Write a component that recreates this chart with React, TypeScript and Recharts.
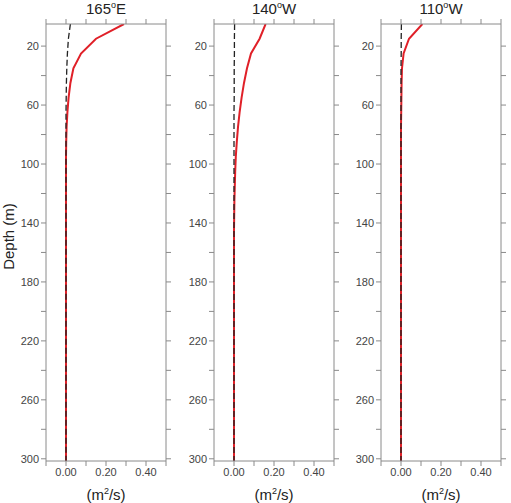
import { Line, LineChart, XAxis, YAxis } from 'recharts'

const DEPTHS = [5, 15, 25, 35, 45, 55, 65, 75, 85, 95, 105, 115, 125, 135, 145, 160, 180, 200, 220, 240, 260, 280, 301.5]

const RED_165E = [0.29, 0.15, 0.075, 0.037, 0.022, 0.013, 0.007, 0.003, 0.001, 0, 0, 0, 0, 0, 0, 0, 0, 0, 0, 0, 0, 0, 0]
const BLK_165E = [0.022, 0.012, 0.007, 0.004, 0.002, 0.001, 0, 0, 0, 0, 0, 0, 0, 0, 0, 0, 0, 0, 0, 0, 0, 0, 0]

const RED_140W = [0.158, 0.128, 0.085, 0.065, 0.05, 0.038, 0.028, 0.02, 0.014, 0.009, 0.006, 0.004, 0.002, 0.001, 0, 0, 0, 0, 0, 0, 0, 0, 0]
const BLK_140W = [0.003, 0.002, 0.002, 0.001, 0.001, 0.001, 0, 0, 0, 0, 0, 0, 0, 0, 0, 0, 0, 0, 0, 0, 0, 0, 0]

const RED_110W = [0.107, 0.04, 0.013, 0.005, 0.003, 0.002, 0.001, 0, 0, 0, 0, 0, 0, 0, 0, 0, 0, 0, 0, 0, 0, 0, 0]
const BLK_110W = [0.002, 0.001, 0.001, 0, 0, 0, 0, 0, 0, 0, 0, 0, 0, 0, 0, 0, 0, 0, 0, 0, 0, 0, 0]

const X_TICKS = [-0.1, 0, 0.1, 0.2, 0.3, 0.4, 0.5]
const X_LABELS = [0, 0.2, 0.4]
const Y_TICKS = [20, 40, 60, 80, 100, 120, 140, 160, 180, 200, 220, 240, 260, 280, 300]
const Y_LABELS = [20, 60, 100, 140, 180, 220, 260, 300]

const FONT = '"Liberation Sans", Arial, sans-serif'
const AXIS = '#8a8a8a'
const tickStyle = { fontSize: 11, fill: '#444', fontFamily: FONT }

function Panel({ plotLeft, title, red, black }: { plotLeft: number; title: string; red: number[]; black: number[] }) {
  const rows = DEPTHS.map((d, i) => ({ depth: d, red: red[i], black: black[i] }))
  const left = plotLeft - 46
  return (
    <div style={{ position: 'absolute', left, top: 0, width: 180, height: 503 }}>
      <div
        style={{ position: 'absolute', left: 46, width: 120, top: 0, textAlign: 'center', fontFamily: FONT, fontSize: 15, color: '#222' }}
      >
        {title}
        <sup style={{ fontSize: 9 }}>o</sup>
        {title === '165' ? 'E' : 'W'}
      </div>
      <div
        style={{ position: 'absolute', left: 46, width: 120, top: 486, textAlign: 'center', fontFamily: FONT, fontSize: 15, color: '#222' }}
      >
        (m<sup style={{ fontSize: 9 }}>2</sup>/s)
      </div>
      <LineChart
        width={180}
        height={503}
        data={rows}
        layout="vertical"
        margin={{ top: 19, bottom: 12, left: 6, right: 4 }}
      >
        <XAxis
          xAxisId="b"
          type="number"
          orientation="bottom"
          domain={[-0.1, 0.5]}
          ticks={X_TICKS}
          interval={0}
          height={30}
          allowDataOverflow
          stroke={AXIS}
          tickSize={5}
          tick={tickStyle}
          tickFormatter={(v: number) => (X_LABELS.some((t) => Math.abs(t - v) < 1e-9) ? v.toFixed(2) : '')}
        />
        <XAxis
          xAxisId="t"
          type="number"
          orientation="top"
          domain={[-0.1, 0.5]}
          ticks={X_TICKS}
          interval={0}
          height={5}
          allowDataOverflow
          stroke={AXIS}
          tickSize={5}
          tickFormatter={() => ''}
        />
        <YAxis
          yAxisId="l"
          type="number"
          dataKey="depth"
          orientation="left"
          domain={[5, 301.5]}
          ticks={Y_TICKS}
          interval={0}
          width={40}
          allowDataOverflow
          stroke={AXIS}
          tickSize={5}
          tick={tickStyle}
          tickFormatter={(v: number) => (Y_LABELS.includes(v) ? String(v) : '')}
        />
        <YAxis
          yAxisId="r"
          type="number"
          dataKey="depth"
          orientation="right"
          domain={[5, 301.5]}
          ticks={Y_TICKS}
          interval={0}
          width={10}
          allowDataOverflow
          stroke={AXIS}
          tickSize={5}
          tickFormatter={() => ''}
        />
        <Line
          xAxisId="b"
          yAxisId="l"
          dataKey="red"
          type="linear"
          stroke="#e02028"
          strokeWidth={2}
          dot={false}
          isAnimationActive={false}
        />
        <Line
          xAxisId="t"
          yAxisId="r"
          dataKey="black"
          type="linear"
          stroke="#222"
          strokeWidth={1.3}
          strokeDasharray="6 3"
          dot={false}
          isAnimationActive={false}
        />
      </LineChart>
    </div>
  )
}

export default function App() {
  return (
    <div style={{ position: 'absolute', left: 0, top: 0, width: 511, height: 503, overflow: 'hidden', background: '#fff' }}>
      <Panel plotLeft={46} title="165" red={RED_165E} black={BLK_165E} />
      <Panel plotLeft={214} title="140" red={RED_140W} black={BLK_140W} />
      <Panel plotLeft={381} title="110" red={RED_110W} black={BLK_110W} />
      <div
        style={{
          position: 'absolute',
          left: -32,
          top: 228,
          width: 80,
          textAlign: 'center',
          transform: 'rotate(-90deg)',
          fontFamily: FONT,
          fontSize: 15,
          color: '#222',
        }}
      >
        Depth (m)
      </div>
    </div>
  )
}
